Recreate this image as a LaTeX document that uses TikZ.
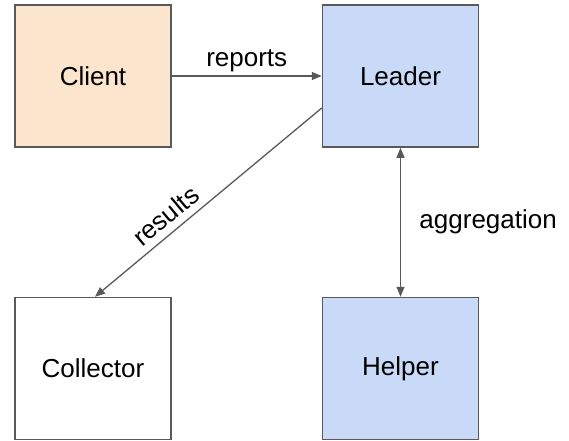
\documentclass[tikz,border=0pt]{standalone}
\usepackage{fontspec}
\setmainfont{Liberation Sans}
\usetikzlibrary{positioning, arrows.meta}
\definecolor{linegray}{HTML}{595959}
\definecolor{clientfill}{HTML}{FCE5CD}
\definecolor{serverfill}{HTML}{C9DAF8}
\tikzset{
node distance=149pt and 150pt, % vertical and horizontal gap between the boxes
>={Triangle[length=10pt, width=8pt]}, % filled tips on every connector
party/.style={draw=linegray, line width=1.5pt, minimum width=156pt, minimum height=142pt, inner sep=0pt, font=\fontsize{26}{30}\selectfont}, % one box per role
flow/.style={draw=linegray, line width=1.3pt}, % the connectors
flowtext/.style={font=\fontsize{26}{30}\selectfont}, % labels on the connectors
}

\begin{document}
\begin{tikzpicture}
    \useasboundingbox (0,0) rectangle (569pt,-440pt);
    \node[party, fill=clientfill] (Client) at (93pt,-76pt) {Client};
    \node[party, fill=serverfill, right=of Client] (Leader) {Leader};
    \node[party, below=of Client] (Collector) {Collector};
    \node[party, fill=serverfill, below=of Leader] (Helper) {Helper};


  \draw[flow, ->] (Client) -- node[flowtext, above, inner sep=3pt]{reports} (Leader);
  \draw[flow, ->] ([yshift=-32pt]Leader.west) -- node[flowtext, sloped, above, inner sep=7pt, pos=0.64]{results} ([xshift=2pt]Collector.north);
  \draw[flow, <->] (Leader) -- node[flowtext, right=15pt]{aggregation} (Helper);
\end{tikzpicture}
\end{document}
